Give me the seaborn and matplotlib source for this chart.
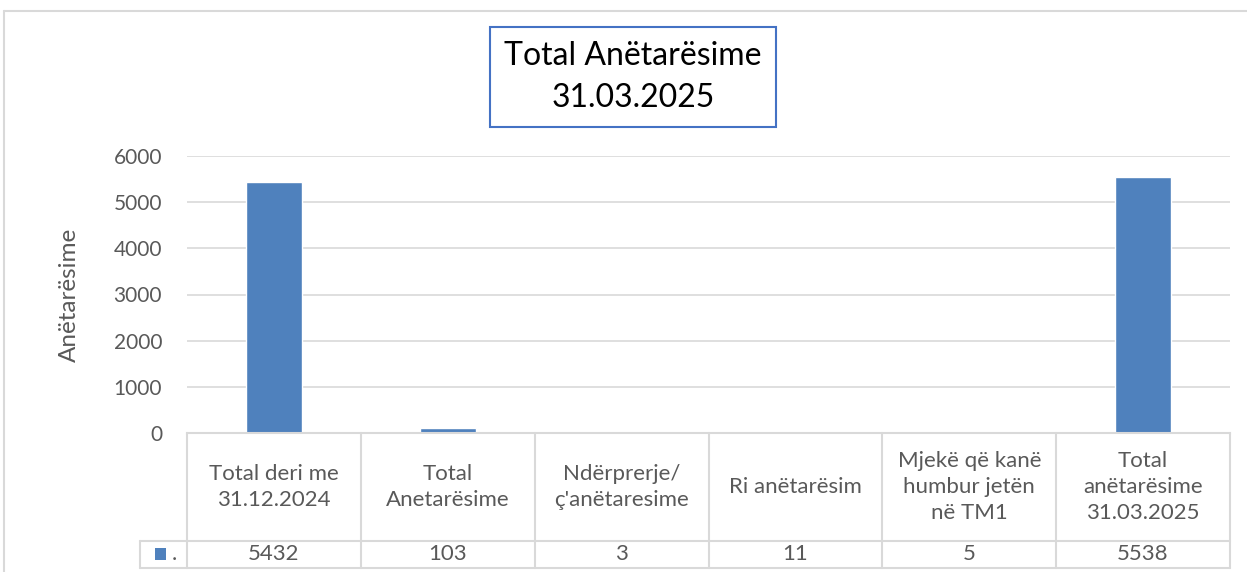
import matplotlib
matplotlib.use("Agg")
import matplotlib.pyplot as plt
import matplotlib.transforms as mtransforms
from matplotlib.lines import Line2D
from matplotlib.patches import Rectangle
import seaborn as sns
import pandas as pd

# te dhenat
categories = ["Total deri me\n31.12.2024", "Total\nAnetarësime", "Ndërprerje/\nç'anëtaresime",
              "Ri anëtarësim", "Mjekë që kanë\nhumbur jetën\nnë TM1", "Total\nanëtarësime\n31.03.2025"]
values = [5432, 103, 3, 11, 5, 5538]
yticks = [0, 1000, 2000, 3000, 4000, 5000, 6000]

bar_color = "#4F81BD"
grid_color = "#D9D9D9"
text_color = "#595959"

sns.set_style("white")
plt.rcParams['font.family'] = ['Lato', 'DejaVu Sans']

W, H = 1247, 572
fig = plt.figure(figsize=(W / 100, H / 100), dpi=100)
ax = fig.add_axes([187 / W, 1 - 433 / H, (1230 - 187) / W, (433 - 156) / H])

df = pd.DataFrame({"cat": categories, "val": values})
sns.barplot(data=df, x="cat", y="val", color=bar_color, width=0.32, saturation=1, ax=ax)

ax.set_ylim(0, 6000)
ax.set_xlim(-0.5, len(categories) - 0.5)
ax.set_yticks(yticks)
ax.set_yticklabels([str(t) for t in yticks], fontsize=15, color=text_color)
ax.tick_params(axis="y", length=0, pad=18)
ax.set_xticks([])
ax.set_xlabel("")
ax.set_ylabel("Anëtarësime", fontsize=17.5, color=text_color, labelpad=24)
ax.yaxis.grid(True, color=grid_color, linewidth=1.2)
ax.set_axisbelow(True)
for s in ["top", "right", "left"]:
    ax.spines[s].set_visible(False)
ax.spines["bottom"].set_color(grid_color)
ax.spines["bottom"].set_linewidth(1.5)

# tabela e te dhenave poshte grafikut
trans = mtransforms.blended_transform_factory(ax.transData, fig.transFigure)
y_top = 1 - 433 / H
y_mid = 1 - 541 / H
y_bot = 1 - 568 / H
x_leg = -0.5 - (187 - 140) / ((1230 - 187) / len(categories))
lkw = dict(color=grid_color, linewidth=1.5, transform=trans, clip_on=False)

for i in range(len(categories) + 1):
    ax.add_line(Line2D([i - 0.5, i - 0.5], [y_top, y_bot], **lkw))
ax.add_line(Line2D([x_leg, len(categories) - 0.5], [y_mid, y_mid], **lkw))
ax.add_line(Line2D([x_leg, len(categories) - 0.5], [y_bot, y_bot], **lkw))
ax.add_line(Line2D([x_leg, x_leg], [y_mid, y_bot], **lkw))

for i, (c, v) in enumerate(zip(categories, values)):
    ax.text(i, (y_top + y_mid) / 2, c, transform=trans, ha="center", va="center",
            fontsize=16, color=text_color, linespacing=1.35)
    ax.text(i, (y_mid + y_bot) / 2, str(v), transform=trans, ha="center", va="center",
            fontsize=16, color=text_color)

# simboli i legjendes
fig.add_artist(Rectangle((155 / W, 1 - 560 / H), 11 / W, 12 / H, transform=fig.transFigure,
                         facecolor=bar_color, edgecolor="none"))
fig.text(172 / W, (y_mid + y_bot) / 2, ".", fontsize=16, color=text_color, va="center")

# titulli
fig.text(633 / W, 1 - 77 / H, "Total Anëtarësime\n31.03.2025", ha="center", va="center",
         fontsize=23, color="black", linespacing=1.5,
         bbox=dict(boxstyle="square,pad=0.45", facecolor="white", edgecolor="#4472C4", linewidth=1.5))

# korniza e jashtme
fig.add_artist(Line2D([4 / W, 1], [1 - 11 / H, 1 - 11 / H], transform=fig.transFigure,
                      color=grid_color, linewidth=1.5))
fig.add_artist(Line2D([4 / W, 4 / W], [0, 1 - 11 / H], transform=fig.transFigure,
                      color=grid_color, linewidth=1.5))

fig.savefig("out.png", dpi=100)
